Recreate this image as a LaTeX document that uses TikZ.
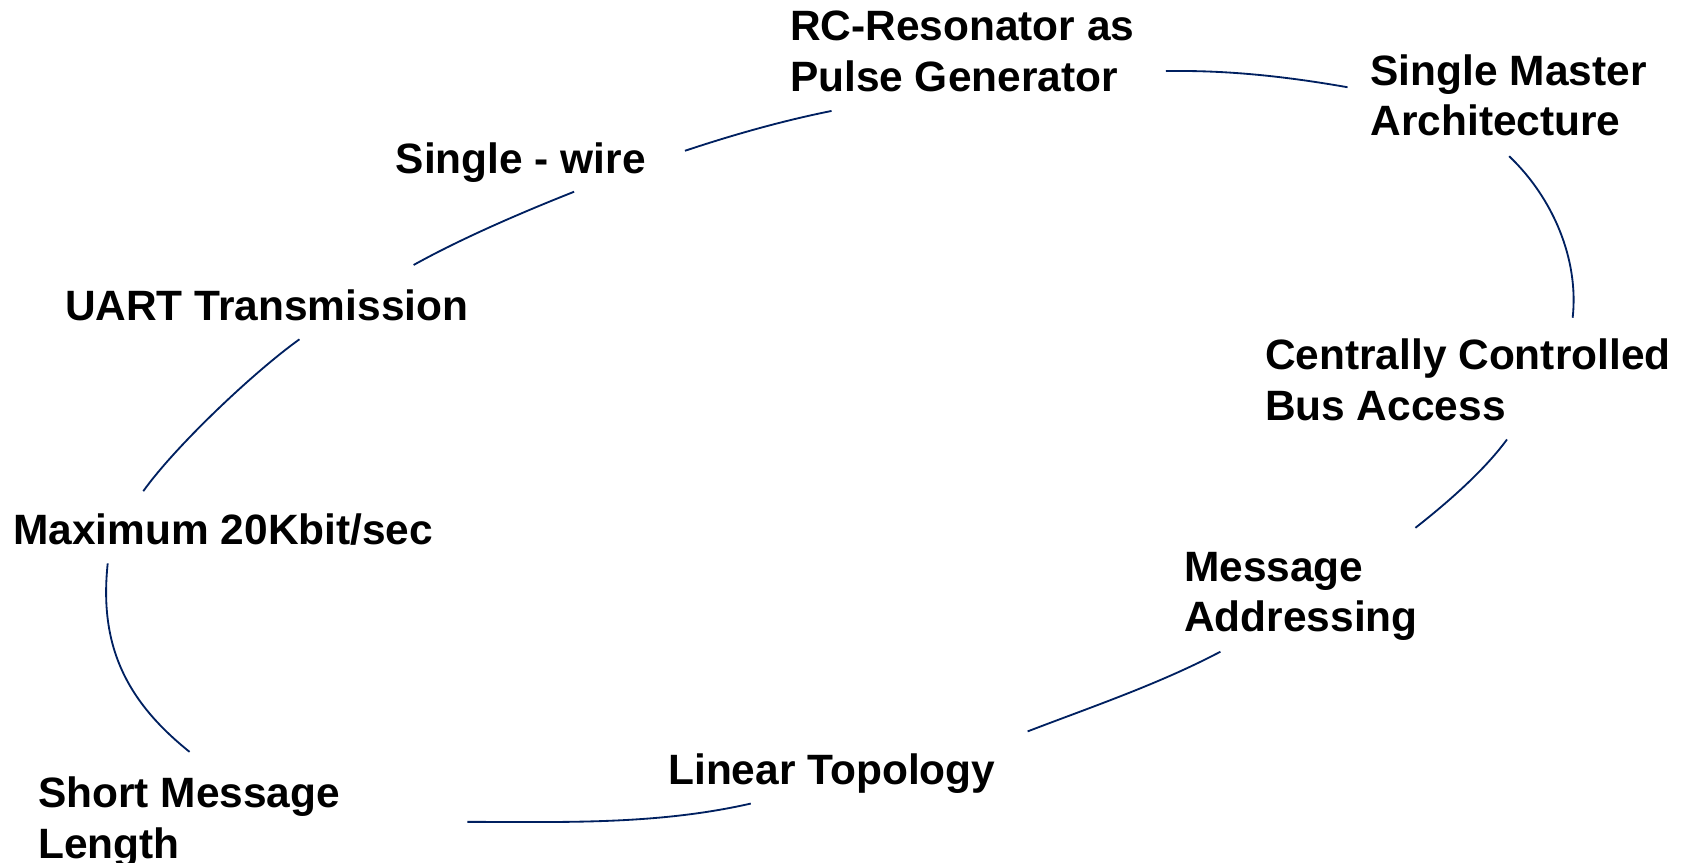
\documentclass[tikz,border=0pt]{standalone}
\usepackage{fontspec}
\setmainfont{Liberation Sans}
\usepackage{tikz}
\definecolor{arcblue}{RGB}{0,32,96}

\begin{document}
\begin{tikzpicture}[x=0.5pt,y=-0.5pt,
  topic/.style={anchor=north west,inner sep=0pt,align=left,
    font=\fontsize{19.7}{23.5}\selectfont\bfseries},
  link/.style={draw=arcblue,line width=0.85pt}]
\useasboundingbox (0,0) rectangle (1568,801);

\node[topic] (rc) at (733,10) {RC-Resonator as\\Pulse Generator};
\node[topic] (master) at (1272,50) {Single Master\\Architecture};
\node[topic] (wire) at (367,132) {Single - wire};
\node[topic] (uart) at (60,269) {UART Transmission};
\node[topic] (central) at (1174,314) {Centrally Controlled\\Bus Access};
\node[topic] (maxrate) at (12,477) {Maximum 20Kbit/sec};
\node[topic] (msg) at (1099,512) {Message\\Addressing};
\node[topic] (linear) at (620,699) {Linear Topology};
\node[topic] (short) at (35,721) {Short Message\\Length};

\draw[link] ([shift={(36,8)}]wire.north east) .. controls +(45,-15) and +(-45,9) .. ([shift={(39,93)}]rc.north west);
\draw[link] ([shift={(29,56)}]rc.north east) .. controls +(57,-1) and +(-57,-10) .. ([shift={(-21,31)}]master.north west);
\draw[link] ([shift={(129,95)}]master.north west) .. controls +(40,38) and +(6,-55) .. ([shift={(286,-19)}]central.north west);
\draw[link] ([shift={(225,94)}]central.north west) .. controls +(-22,30) and +(28,-22) .. ([shift={(215,-22)}]msg.north west);
\draw[link] ([shift={(34,93)}]msg.north west) .. controls +(-57,30) and +(60,-23) .. ([shift={(334,-20)}]linear.north west);
\draw[link] ([shift={(77,47)}]linear.north west) .. controls +(-88,20) and +(88,0) .. ([shift={(399,42)}]short.north west);
\draw[link] ([shift={(141,-23)}]short.north west) .. controls +(-60,-48) and +(-8,75) .. ([shift={(88,46)}]maxrate.north west);
\draw[link] ([shift={(121,-21)}]maxrate.north west) .. controls +(30,-42) and +(-42,30) .. ([shift={(218,46)}]uart.north west);
\draw[link] ([shift={(324,-23)}]uart.north west) .. controls +(45,-25) and +(-48,19) .. ([shift={(166,46)}]wire.north west);
\end{tikzpicture}
\end{document}
